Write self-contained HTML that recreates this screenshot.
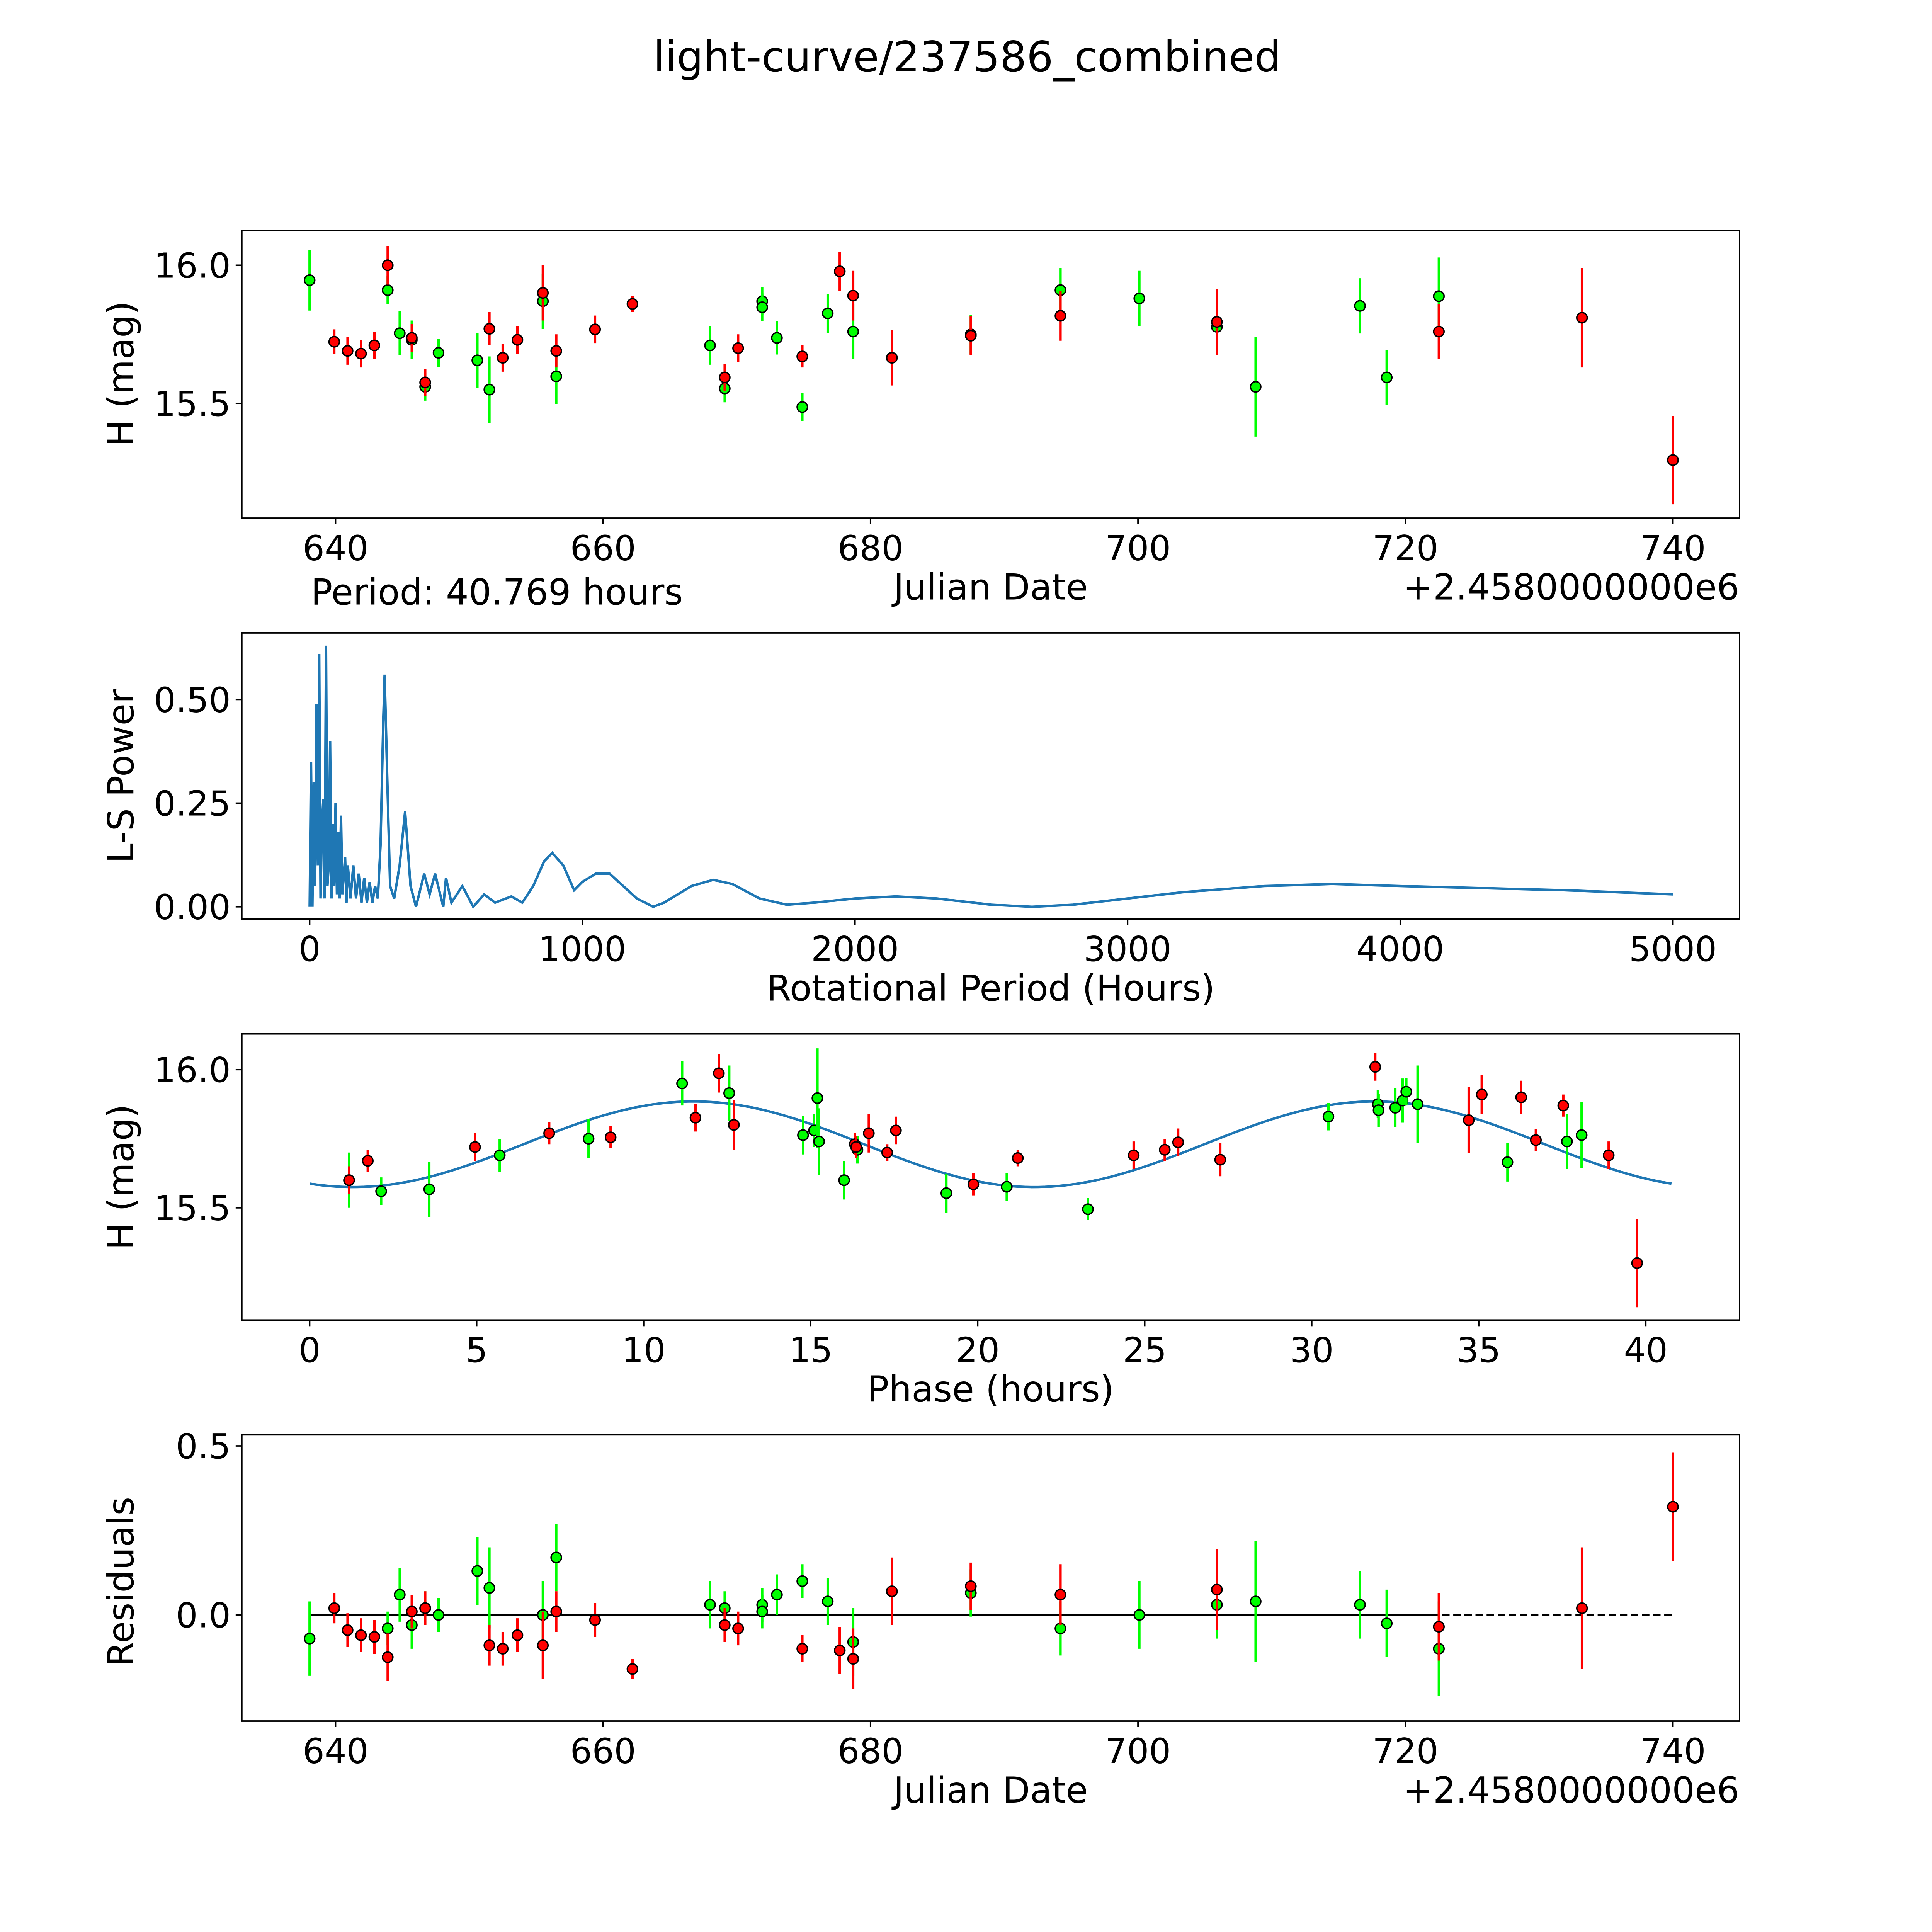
<!DOCTYPE html>
<html><head><meta charset="utf-8">
<style>
html,body{margin:0;padding:0;background:#fff;width:100%;height:100%;overflow:hidden;}
svg{display:block;width:100vw;height:100vh;font-family:"DejaVu Sans","Liberation Sans",sans-serif;}
</style></head>
<body>
<svg id="fig" viewBox="0 0 1566 1566" preserveAspectRatio="xMinYMin meet" xmlns="http://www.w3.org/2000/svg">
<rect width="1566" height="1566" fill="#fff"/>
<text x="784" y="58" font-size="34" text-anchor="middle">light-curve/237586_combined</text>
</svg>
<script>
// ---- Panel 1 / 4 data (per observation) ----
const redDates = [639.9,640.9,641.9,642.9,643.9,645.7,646.7,651.5,652.5,653.6,655.5,656.5,659.4,662.2,669.1,670.1,674.9,677.7,678.7,681.6,687.5,694.2,705.9,722.5,733.2,740.0];
const redMags  = [15.723,15.69,15.68,15.71,16.0,15.737,15.576,15.77,15.665,15.73,15.90,15.69,15.768,15.86,15.594,15.70,15.67,15.978,15.89,15.665,15.745,15.817,15.795,15.76,15.81,15.295];
const redErrs  = [0.045,0.05,0.05,0.05,0.07,0.05,0.05,0.06,0.05,0.05,0.1,0.06,0.05,0.03,0.05,0.05,0.04,0.07,0.09,0.1,0.07,0.09,0.12,0.1,0.18,0.16];
const redResid = [0.02,-0.045,-0.06,-0.065,-0.125,0.01,0.02,-0.09,-0.1,-0.06,-0.09,0.01,-0.015,-0.16,-0.03,-0.04,-0.1,-0.105,-0.13,0.07,0.085,0.06,0.075,-0.035,0.02,0.32];

const grnDates = [638.06,643.9,644.8,645.7,646.7,647.7,650.6,651.5,655.5,656.5,668.0,669.1,671.9,671.9,673.0,674.9,676.8,678.7,687.5,694.2,700.1,705.9,708.8,716.6,718.6,722.5];
const grnMags  = [15.946,15.91,15.754,15.73,15.56,15.683,15.656,15.55,15.87,15.598,15.71,15.554,15.87,15.848,15.737,15.487,15.826,15.76,15.75,15.91,15.88,15.777,15.56,15.853,15.594,15.888];
const grnErrs  = [0.11,0.05,0.08,0.07,0.05,0.05,0.1,0.12,0.1,0.1,0.07,0.05,0.05,0.05,0.06,0.05,0.07,0.1,0.07,0.08,0.1,0.1,0.18,0.1,0.1,0.14];
const grnResid = [-0.07,-0.04,0.06,-0.03,0.02,0,0.13,0.08,0,0.17,0.03,0.02,0.03,0.01,0.06,0.10,0.04,-0.08,0.065,-0.04,0,0.03,0.04,0.03,-0.025,-0.1];

// ---- Panel 3 data (phase folded) ----
const redPhase = [1.18,1.74,4.95,7.17,9.01,11.55,12.25,12.7,16.32,16.36,16.74,17.29,17.55,19.87,21.2,24.67,25.6,26.0,27.26,31.9,34.7,35.09,36.27,36.71,37.53,38.89,39.74];
const redPhMag = [15.60,15.67,15.72,15.77,15.755,15.826,15.987,15.80,15.73,15.72,15.77,15.70,15.78,15.585,15.68,15.69,15.71,15.737,15.674,16.01,15.817,15.91,15.90,15.745,15.87,15.69,15.30];
const redPhErr = [0.05,0.04,0.05,0.04,0.04,0.05,0.07,0.09,0.04,0.04,0.07,0.03,0.05,0.04,0.03,0.05,0.04,0.05,0.06,0.05,0.12,0.07,0.06,0.04,0.04,0.05,0.16];
const grnPhase = [1.18,2.14,3.58,5.69,8.35,11.15,12.56,14.77,15.1,15.2,15.25,16.0,16.4,19.06,20.87,23.3,30.5,31.98,32.0,32.5,32.72,32.83,33.17,35.86,37.64,38.08];
const grnPhMag = [15.6,15.56,15.567,15.69,15.75,15.95,15.915,15.763,15.78,15.897,15.74,15.60,15.71,15.553,15.576,15.495,15.83,15.875,15.853,15.862,15.888,15.92,15.875,15.665,15.74,15.763];
const grnPhErr = [0.1,0.05,0.1,0.06,0.07,0.08,0.1,0.07,0.06,0.18,0.12,0.07,0.05,0.07,0.05,0.04,0.05,0.05,0.06,0.07,0.08,0.05,0.14,0.07,0.1,0.12];
const modelPeriod = 40.769;
const modelMean = 15.73, modelAmp = 0.155, modelShift = 6.4;

// ---- Panel 2 data (periodogram, read by eye) ----
const lsPeriods = [0,5,10,15,20,25,30,35,40,45,50,55,60,65,70,75,80,85,90,95,100,105,110,115,120,130,135,140,150,160,170,180,190,200,210,220,230,240,250,260,270,275,285,295,310,330,350,370,390,420,440,460,490,500,520,560,600,640,680,740,780,820,860,890,930,970,1000,1050,1100,1150,1200,1260,1300,1400,1480,1550,1650,1750,1850,2000,2150,2300,2500,2650,2800,3000,3200,3500,3750,4000,4300,4600,5000];
const lsPowers  = [0,0.35,0,0.3,0.05,0.49,0.1,0.61,0.02,0.2,0.26,0.02,0.63,0.05,0.1,0.4,0.02,0.2,0.05,0.25,0.03,0.18,0.02,0.22,0.03,0.12,0.01,0.1,0.02,0.1,0.02,0.08,0.01,0.07,0.01,0.06,0.01,0.05,0.02,0.15,0.45,0.56,0.3,0.05,0.02,0.1,0.23,0.05,0.0,0.08,0.03,0.08,0.0,0.07,0.01,0.05,0.0,0.03,0.01,0.025,0.01,0.05,0.11,0.13,0.1,0.04,0.06,0.08,0.08,0.05,0.02,0.0,0.01,0.05,0.065,0.055,0.02,0.005,0.01,0.02,0.025,0.02,0.005,0.0,0.005,0.02,0.035,0.05,0.055,0.05,0.045,0.04,0.03];

const jdTicks = [640,660,680,700,720,740];
const magTicks = [15.5,16.0];
const lsXTicks = [0,1000,2000,3000,4000,5000];
const lsYTicks = [0,0.25,0.5];
const phTicks = [0,5,10,15,20,25,30,35,40];
const resTicks = [0,0.5];

const NS = "http://www.w3.org/2000/svg";
const svg = document.getElementById('fig');
function mk(tag, attrs, parent){ const e=document.createElementNS(NS,tag); for(const k in attrs) e.setAttribute(k,attrs[k]); (parent||svg).appendChild(e); return e; }
function txt(s, attrs, parent){ const e=mk('text',attrs,parent); e.textContent=s; return e; }

const L=196, R=1410;
const xJD = d => 272 + (d-640)*10.84;
const y1 = m => 215 - (m-16.0)*224;
const xLS = p => 251 + p*0.221;
const y2 = v => 735 - v*336;
const xPh = p => 251 + p*27.075;
const y3 = m => 867 - (m-16.0)*224;
const y4 = r => 1309 - r*274;

function frame(top, bottom, name){
  const g=mk('g',{});  
  mk('rect',{x:L,y:top,width:R-L,height:bottom-top,fill:'none',stroke:'#000','stroke-width':1.2},g);
  return g;
}
function xticks(g, ticks, fx, bottom, fmt){
  ticks.forEach(t=>{const x=fx(t);
    mk('line',{x1:x,x2:x,y1:bottom,y2:bottom+5,stroke:'#000','stroke-width':1.2},g);
    const e=txt(fmt(t),{x:x,y:bottom+34,'font-size':28,'text-anchor':'middle'},g);
     });
}
function yticks(g, ticks, fy, fmt){
  ticks.forEach(t=>{const y=fy(t);
    mk('line',{x1:L-5,x2:L,y1:y,y2:y,stroke:'#000','stroke-width':1.2},g);
    const e=txt(fmt(t),{x:L-9,y:y+10,'font-size':28,'text-anchor':'end'},g);
     });
}
function ylabel(g, s, cy, name){
  const e=txt(s,{x:0,y:0,'font-size':29,'text-anchor':'middle',transform:`translate(108,${cy}) rotate(-90)`},g);
   
}
function xlabel(g, s, y, name){
  const e=txt(s,{x:803,y:y,'font-size':29,'text-anchor':'middle'},g);
   
}
function points(g, xs, ys, es, fx, fy, col, name){
  xs.forEach((v,i)=>{
    const x=fx(v), y=fy(ys[i]);
    const l=mk('line',{x1:x,x2:x,y1:fy(ys[i]+es[i]),y2:fy(ys[i]-es[i]),stroke:col,'stroke-width':2},g);
    
    
    const c=mk('circle',{cx:x,cy:y,r:4.2,fill:col,stroke:'#000','stroke-width':1.1},g);
    
    
  });
}

// Panel 1
const g1=frame(187,420,'light-curve-panel');
xticks(g1,jdTicks,xJD,420,t=>String(t));
yticks(g1,magTicks,y1,t=>t.toFixed(1));
ylabel(g1,'H (mag)',303,'y-axis-title-mag');
xlabel(g1,'Julian Date',486,'x-axis-title-jd');
let o=txt('+2.4580000000e6',{x:R,y:486,'font-size':29,'text-anchor':'end'},g1);
 
o=txt('Period: 40.769 hours',{x:252,y:490,'font-size':29},g1);
 
points(g1,grnDates,grnMags,grnErrs,xJD,y1,'#00ff00','green-band');
points(g1,redDates,redMags,redErrs,xJD,y1,'#ff0000','red-band');

// Panel 2
const g2=frame(513,745,'periodogram-panel');
xticks(g2,lsXTicks,xLS,745,t=>String(t));
yticks(g2,lsYTicks,y2,t=>t.toFixed(2));
ylabel(g2,'L-S Power',629,'y-axis-title-power');
xlabel(g2,'Rotational Period (Hours)',811,'x-axis-title-period');
const ls=mk('polyline',{points:lsPeriods.map((p,i)=>xLS(p)+','+y2(lsPowers[i])).join(' '),fill:'none',stroke:'#1f77b4','stroke-width':2},g2);



// Panel 3
const g3=frame(838,1070,'phase-panel');
xticks(g3,phTicks,xPh,1070,t=>String(t));
yticks(g3,magTicks,y3,t=>t.toFixed(1));
ylabel(g3,'H (mag)',954,'y-axis-title-phase-mag');
xlabel(g3,'Phase (hours)',1136,'x-axis-title-phase');
const mp=[];
for(let i=0;i<=200;i++){const p=modelPeriod*i/200; mp.push(xPh(p)+','+y3(modelMean+modelAmp*Math.sin(2*Math.PI*(p-modelShift)/(modelPeriod/2))));}
const ml=mk('polyline',{points:mp.join(' '),fill:'none',stroke:'#1f77b4','stroke-width':2},g3);


points(g3,grnPhase,grnPhMag,grnPhErr,xPh,y3,'#00ff00','green-phase');
points(g3,redPhase,redPhMag,redPhErr,xPh,y3,'#ff0000','red-phase');

// Panel 4
const g4=frame(1163,1395,'residuals-panel');
xticks(g4,jdTicks,xJD,1395,t=>String(t));
yticks(g4,resTicks,y4,t=>t.toFixed(1));
ylabel(g4,'Residuals',1282,'y-axis-title-residuals');
xlabel(g4,'Julian Date',1461,'x-axis-title-jd-residuals');
o=txt('+2.4580000000e6',{x:R,y:1461,'font-size':29,'text-anchor':'end'},g4);
 
const allD=grnDates.concat(redDates);
const dmin=Math.min(...allD), dmax=Math.max(...allD);
let zl=mk('line',{x1:xJD(dmin),x2:xJD(dmax),y1:y4(0),y2:y4(0),stroke:'#000','stroke-width':1.5,'stroke-dasharray':'6,3'},g4);


zl=mk('line',{x1:xJD(dmin),x2:xJD(722.5),y1:y4(0),y2:y4(0),stroke:'#000','stroke-width':1.5},g4);


points(g4,grnDates,grnResid,grnErrs,xJD,y4,'#00ff00','green-residual');
points(g4,redDates,redResid,redErrs,xJD,y4,'#ff0000','red-residual');
</script>
</body></html>
